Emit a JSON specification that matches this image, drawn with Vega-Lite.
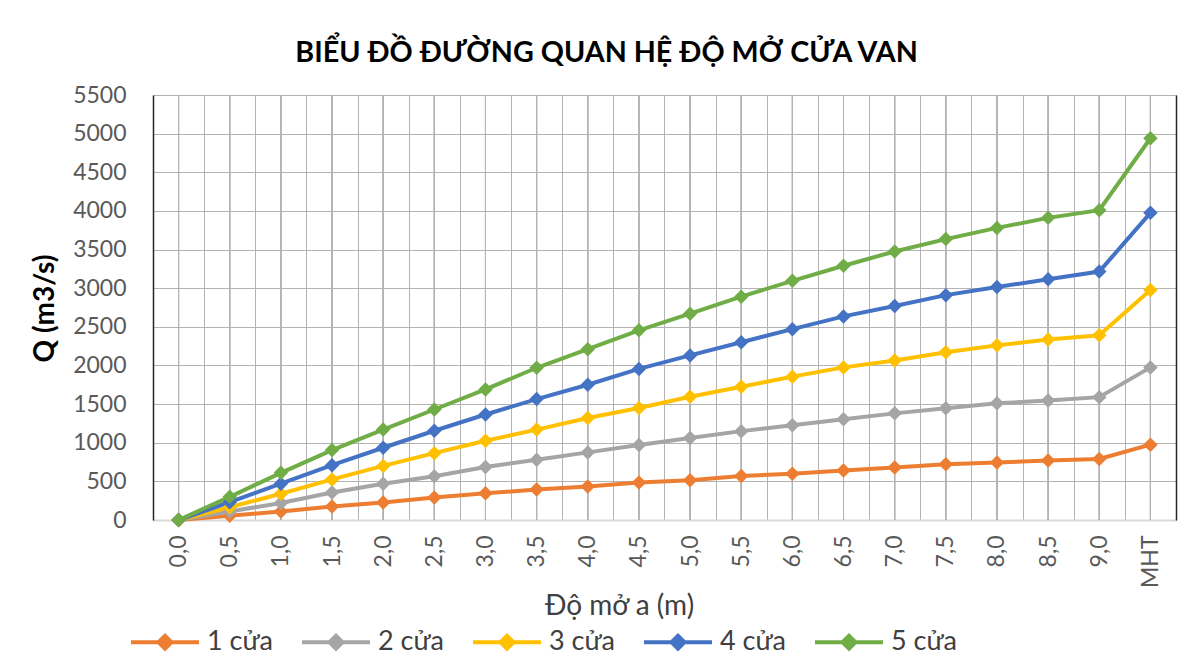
{
  "$schema": "https://vega.github.io/schema/vega-lite/v6.json",
  "width": 1023,
  "height": 425,
  "autosize": {"type": "none"},
  "padding": {"left": 153, "top": 95, "right": 23, "bottom": 146},
  "background": "white",
  "config": {"view": {"stroke": null}, "font": "Lato"},
  "title": {
    "text": "BIỂU ĐỒ ĐƯỜNG QUAN HỆ ĐỘ MỞ CỬA VAN",
    "font": "Lato",
    "fontSize": 28.7,
    "fontWeight": "bold",
    "color": "#000000",
    "anchor": "middle",
    "dx": -58,
    "offset": 16
  },
  "data": {
    "values": [
      {"a": "0,0", "1 cửa": 0, "2 cửa": 0, "3 cửa": 0, "4 cửa": 0, "5 cửa": 0},
      {"a": "0,5", "1 cửa": 55, "2 cửa": 110, "3 cửa": 165, "4 cửa": 230, "5 cửa": 300},
      {"a": "1,0", "1 cửa": 110, "2 cửa": 220, "3 cửa": 340, "4 cửa": 470, "5 cửa": 610},
      {"a": "1,5", "1 cửa": 175, "2 cửa": 355, "3 cửa": 525, "4 cửa": 710, "5 cửa": 905},
      {"a": "2,0", "1 cửa": 228, "2 cửa": 470, "3 cửa": 700, "4 cửa": 935, "5 cửa": 1170},
      {"a": "2,5", "1 cửa": 290, "2 cửa": 565, "3 cửa": 865, "4 cửa": 1155, "5 cửa": 1430},
      {"a": "3,0", "1 cửa": 345, "2 cửa": 685, "3 cửa": 1025, "4 cửa": 1365, "5 cửa": 1690},
      {"a": "3,5", "1 cửa": 395, "2 cửa": 780, "3 cửa": 1170, "4 cửa": 1565, "5 cửa": 1970},
      {"a": "4,0", "1 cửa": 435, "2 cửa": 875, "3 cửa": 1320, "4 cửa": 1750, "5 cửa": 2210},
      {"a": "4,5", "1 cửa": 485, "2 cửa": 970, "3 cửa": 1450, "4 cửa": 1955, "5 cửa": 2455},
      {"a": "5,0", "1 cửa": 515, "2 cửa": 1060, "3 cửa": 1595, "4 cửa": 2130, "5 cửa": 2670},
      {"a": "5,5", "1 cửa": 570, "2 cửa": 1150, "3 cửa": 1725, "4 cửa": 2300, "5 cửa": 2890},
      {"a": "6,0", "1 cửa": 600, "2 cửa": 1225, "3 cửa": 1855, "4 cửa": 2470, "5 cửa": 3095},
      {"a": "6,5", "1 cửa": 640, "2 cửa": 1305, "3 cửa": 1975, "4 cửa": 2635, "5 cửa": 3290},
      {"a": "7,0", "1 cửa": 680, "2 cửa": 1380, "3 cửa": 2065, "4 cửa": 2770, "5 cửa": 3475},
      {"a": "7,5", "1 cửa": 720, "2 cửa": 1445, "3 cửa": 2170, "4 cửa": 2910, "5 cửa": 3635},
      {"a": "8,0", "1 cửa": 745, "2 cửa": 1510, "3 cửa": 2260, "4 cửa": 3015, "5 cửa": 3780},
      {"a": "8,5", "1 cửa": 770, "2 cửa": 1545, "3 cửa": 2335, "4 cửa": 3115, "5 cửa": 3910},
      {"a": "9,0", "1 cửa": 790, "2 cửa": 1590, "3 cửa": 2390, "4 cửa": 3215, "5 cửa": 4010},
      {"a": "MHT", "1 cửa": 975, "2 cửa": 1975, "3 cửa": 2975, "4 cửa": 3975, "5 cửa": 4940}
    ]
  },
  "transform": [
    {"fold": ["1 cửa", "2 cửa", "3 cửa", "4 cửa", "5 cửa"], "as": ["series", "Q"]}
  ],
  "layer": [
    {
      "mark": {"type": "rule", "color": "#b3b3b3", "strokeWidth": 1},
      "encoding": {
        "x": {
          "field": "a",
          "type": "ordinal",
          "bandPosition": 0.5,
          "sort": ["0,0","0,5","1,0","1,5","2,0","2,5","3,0","3,5","4,0","4,5","5,0","5,5","6,0","6,5","7,0","7,5","8,0","8,5","9,0","MHT"],
          "scale": {"type": "band", "paddingInner": 0, "paddingOuter": 0},
          "axis": {
            "labelAngle": -90,
            "labelFont": "Lato",
            "labelFontSize": 23,
            "labelColor": "#595959",
            "labelPadding": 15,
            "grid": true,
            "tickBand": "extent",
            "gridColor": "#b3b3b3",
            "gridWidth": 1,
            "ticks": false,
            "domainColor": "#d9d9d9",
            "domainWidth": 2,
            "title": "Độ mở a (m)",
            "titleFont": "Lato",
            "titleFontSize": 28,
            "titleFontWeight": "normal",
            "titleColor": "#404040",
            "titleX": 466,
            "titleY": 94,
            "titleBaseline": "alphabetic"
          }
        }
      }
    },
    {
      "mark": {"type": "point", "opacity": 0},
      "encoding": {
        "x": {"field": "a", "type": "ordinal", "sort": ["0,0","0,5","1,0","1,5","2,0","2,5","3,0","3,5","4,0","4,5","5,0","5,5","6,0","6,5","7,0","7,5","8,0","8,5","9,0","MHT"]},
        "y": {
          "field": "Q",
          "type": "quantitative",
          "scale": {"domain": [0, 5500], "nice": false},
          "axis": {
            "orient": "right",
            "labels": false,
            "ticks": false,
            "grid": false,
            "title": null,
            "domainColor": "#262626",
            "domainWidth": 1.5
          }
        }
      }
    },
    {
      "mark": {
        "type": "line",
        "strokeWidth": 4,
        "point": {"shape": "diamond", "size": 210, "filled": true}
      },
      "encoding": {
        "x": {"field": "a", "type": "ordinal", "sort": ["0,0","0,5","1,0","1,5","2,0","2,5","3,0","3,5","4,0","4,5","5,0","5,5","6,0","6,5","7,0","7,5","8,0","8,5","9,0","MHT"]},
        "y": {
          "field": "Q",
          "type": "quantitative",
          "scale": {"domain": [0, 5500], "nice": false},
          "axis": {
            "values": [0, 500, 1000, 1500, 2000, 2500, 3000, 3500, 4000, 4500, 5000, 5500],
            "format": "d",
            "labelFont": "Lato",
            "labelFontSize": 23,
            "labelColor": "#595959",
            "labelPadding": 27,
            "ticks": false,
            "grid": true,
            "gridColor": "#b3b3b3",
            "gridWidth": 1,
            "domainColor": "#262626",
            "domainWidth": 1.5,
            "title": "Q (m3/s)",
            "titleFont": "Lato",
            "titleFontSize": 28,
            "titleFontWeight": "bold",
            "titleColor": "#000000",
            "titleX": -108,
            "titleY": 213,
            "titleBaseline": "middle",
            "titleAngle": -90
          }
        },
        "color": {
          "field": "series",
          "type": "nominal",
          "scale": {
            "domain": ["1 cửa", "2 cửa", "3 cửa", "4 cửa", "5 cửa"],
            "range": ["#ED7D31", "#A5A5A5", "#FFC000", "#4472C4", "#70AD47"]
          },
          "legend": {
            "orient": "none",
            "legendX": -24,
            "legendY": 511,
            "direction": "horizontal",
            "title": null,
            "padding": 0,
            "labelFont": "Lato",
            "labelFontSize": 27,
            "labelColor": "#404040",
            "labelOffset": 6,
            "columnPadding": 21,
            "symbolType": "M-1,0H1M-0.19,0L0,-0.19L0.19,0L0,0.19Z M-0.1,0L0,-0.1L0.1,0L0,0.1Z M0,-0.19V0.19",
            "symbolSize": 4624,
            "symbolStrokeWidth": 4
          }
        }
      }
    }
  ],
  "resolve": {"axis": {"y": "independent"}}
}
